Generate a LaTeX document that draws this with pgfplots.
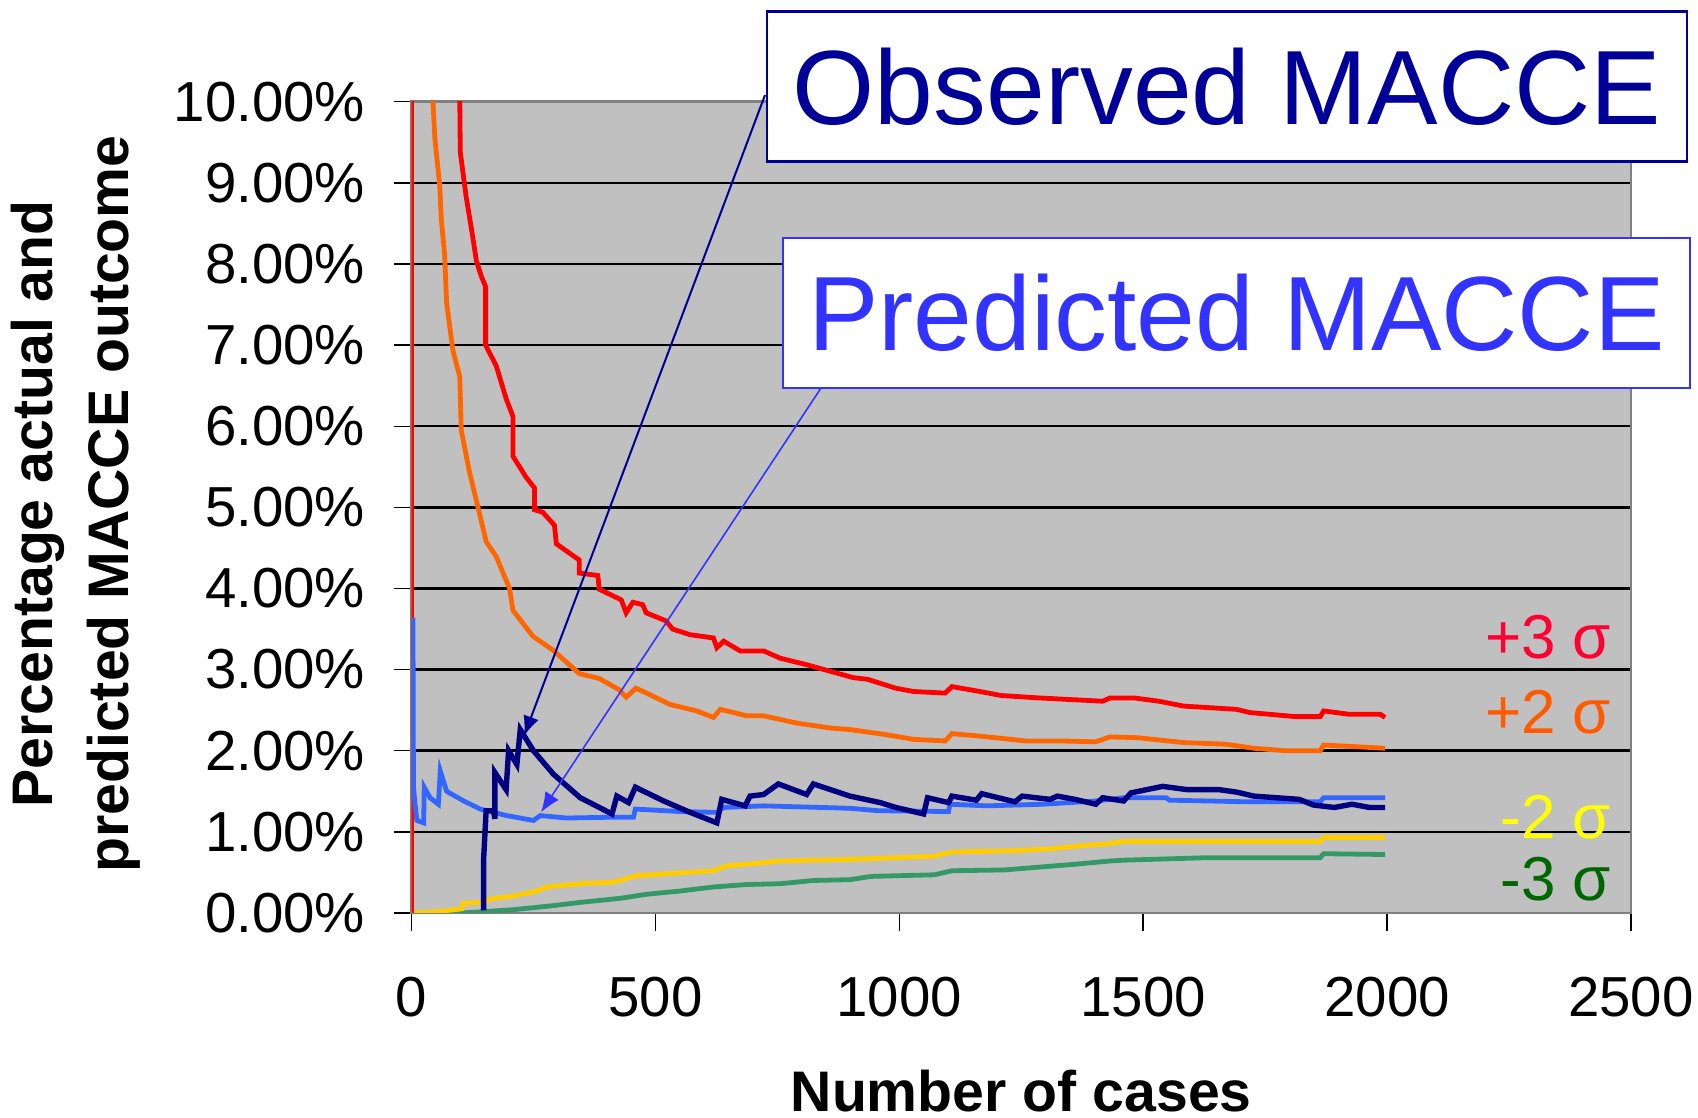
\documentclass[border=0pt]{standalone}
\usepackage{fontspec}
\setmainfont{Liberation Sans}
\usepackage{pgfplots}
\pgfplotsset{compat=1.18}
\usetikzlibrary{arrows.meta}
\definecolor{plotgray}{RGB}{192,192,192}
\definecolor{cRed}{RGB}{255,0,0}
\definecolor{cOrange}{RGB}{255,102,0}
\definecolor{cNavy}{RGB}{0,0,128}
\definecolor{cPred}{RGB}{51,102,255}
\definecolor{cYellow}{RGB}{255,204,0}
\definecolor{cGreen}{RGB}{51,153,102}
\definecolor{tRed}{RGB}{255,0,51}
\definecolor{tOrange}{RGB}{255,90,0}
\definecolor{tYellow}{RGB}{255,255,0}
\definecolor{tGreen}{RGB}{0,102,0}
\definecolor{boxObs}{RGB}{0,0,153}
\definecolor{boxPred}{RGB}{51,51,255}
\begin{document}
\begin{tikzpicture}[x=1pt,y=1pt]
\useasboundingbox (0,0) rectangle (424.5,279.25);
\begin{axis}[
  at={(102.875pt,51.025pt)}, anchor=south west,
  width=304.85pt, height=202.78pt, scale only axis,
  xmin=0, xmax=2500, ymin=0, ymax=10,
  xtick={0,500,1000,1500,2000,2500},
  xticklabels={0,500,1000,1500,2000,2500},
  ytick={0,1,2,3,4,5,6,7,8,9,10},
  yticklabels={0.00\%,1.00\%,2.00\%,3.00\%,4.00\%,5.00\%,6.00\%,7.00\%,8.00\%,9.00\%,10.00\%},
  tick align=outside, tick pos=left,
  major tick length=4.5pt,
  tick style={black, line width=0.35pt},
  ymajorgrids, grid style={black, line width=0.6pt},
  axis background/.style={fill=plotgray},
  axis line style={draw=black!50, line width=0.7pt},
  ticklabel style={font=\fontsize{14.1}{16}\selectfont},
  xticklabel style={yshift=-8pt},
  yticklabel style={xshift=-3.6pt},
  /pgf/number format/assume math mode=true,
  every axis plot/.append style={line width=1.2pt, line join=miter},
]
\addplot[cGreen] coordinates {(0,0) (107,0.0) (209,0.04) (291,0.09) (346,0.13) (428,0.18) (482,0.23) (551,0.27) (619,0.32) (687,0.35) (756,0.36) (824,0.40) (899,0.41) (942,0.45) (1072,0.47) (1108,0.52) (1216,0.53) (1360,0.60) (1432,0.64) (1460,0.65) (1626,0.68) (1863,0.68) (1870,0.73) (1996,0.72)};
\addplot[cYellow] coordinates {(0,0) (59,0.02) (103,0.05) (106,0.12) (148,0.13) (161,0.17) (209,0.21) (257,0.27) (277,0.32) (346,0.36) (414,0.38) (462,0.46) (517,0.48) (619,0.52) (646,0.58) (687,0.60) (756,0.64) (824,0.65) (899,0.66) (993,0.68) (1072,0.70) (1108,0.75) (1245,0.77) (1309,0.79) (1374,0.83) (1424,0.85) (1460,0.88) (1863,0.88) (1870,0.93) (1996,0.93)};
\addplot[cOrange] coordinates {(0,0) (0,30) (40,12) (44,10.0) (48,9.54) (58,8.96) (61,8.56) (68,8.11) (72,7.52) (85,6.93) (99,6.61) (102,5.95) (119,5.43) (140,4.91) (153,4.58) (174,4.39) (201,4.0) (208,3.73) (249,3.41) (290,3.24) (344,2.95) (385,2.89) (426,2.75) (440,2.66) (460,2.77) (482,2.71) (530,2.57) (585,2.49) (619,2.41) (633,2.51) (687,2.43) (722,2.43) (790,2.34) (858,2.28) (899,2.26) (971,2.20) (1029,2.14) (1094,2.12) (1108,2.21) (1165,2.18) (1259,2.12) (1331,2.12) (1403,2.11) (1432,2.17) (1489,2.16) (1583,2.10) (1669,2.08) (1727,2.03) (1791,2.00) (1863,2.00) (1870,2.07) (1996,2.03)};
\addplot[cRed] coordinates {(0,0) (0,40) (50,14) (99,10.0) (100,9.38) (112,8.83) (123,8.43) (133,8.04) (143,7.85) (152,7.72) (152,7.0) (174,6.74) (194,6.34) (208,6.12) (208,5.63) (235,5.37) (252,5.24) (252,4.97) (269,4.94) (293,4.78) (297,4.55) (344,4.35) (344,4.19) (382,4.16) (385,3.99) (430,3.86) (440,3.70) (454,3.83) (474,3.80) (481,3.70) (522,3.60) (535,3.50) (571,3.43) (619,3.39) (626,3.27) (640,3.35) (674,3.23) (722,3.23) (756,3.14) (810,3.06) (858,2.98) (906,2.90) (935,2.88) (993,2.77) (1029,2.73) (1094,2.71) (1108,2.79) (1165,2.73) (1209,2.68) (1288,2.65) (1417,2.61) (1432,2.65) (1482,2.65) (1532,2.61) (1583,2.55) (1691,2.51) (1719,2.47) (1813,2.42) (1863,2.42) (1870,2.49) (1921,2.45) (1986,2.45) (1996,2.41)};
\addplot[cPred] coordinates {(3,3.64) (4,1.55) (8,1.30) (11,1.14) (25,1.11) (26,1.55) (38,1.42) (55,1.34) (59,1.75) (72,1.50) (107,1.38) (141,1.28) (195,1.20) (250,1.14) (264,1.20) (318,1.17) (414,1.18) (455,1.18) (459,1.28) (551,1.25) (626,1.24) (640,1.30) (722,1.32) (899,1.29) (957,1.26) (1101,1.25) (1104,1.34) (1180,1.32) (1295,1.34) (1403,1.38) (1460,1.42) (1547,1.42) (1554,1.39) (1712,1.37) (1863,1.37) (1870,1.42) (1996,1.42)};
\addplot[cNavy, line width=1.35pt] coordinates {(148,0.03) (148,0.68) (153,1.26) (168,1.26) (171,1.16) (171,1.73) (194,1.52) (199,2.0) (216,1.83) (223,2.26) (250,2.0) (291,1.71) (346,1.42) (411,1.22) (421,1.44) (445,1.36) (459,1.55) (517,1.38) (571,1.24) (626,1.11) (636,1.40) (684,1.32) (694,1.44) (722,1.46) (752,1.59) (810,1.46) (824,1.59) (899,1.44) (961,1.36) (993,1.30) (1050,1.22) (1058,1.42) (1101,1.36) (1108,1.44) (1158,1.39) (1169,1.47) (1237,1.37) (1252,1.44) (1309,1.40) (1324,1.44) (1360,1.40) (1403,1.34) (1417,1.42) (1460,1.38) (1475,1.48) (1540,1.56) (1590,1.52) (1655,1.52) (1691,1.49) (1727,1.44) (1820,1.40) (1849,1.33) (1892,1.30) (1928,1.34) (1964,1.30) (1996,1.30)};
\coordinate (obsTip) at (axis cs:230.6,2.18);
\coordinate (predTip) at (axis cs:265.5,1.24);
\end{axis}
% annotation boxes
\node[draw=boxObs, line width=0.6pt, fill=white, minimum width=230pt, minimum height=37.5pt, inner sep=0pt,
  text=boxObs, font=\fontsize{26.4}{30}\selectfont] (obs) at (306.75,257.6) {Observed MACCE};
\node[draw=boxPred, line width=0.6pt, fill=white, minimum width=226.75pt, minimum height=37.5pt, inner sep=0pt,
  text=boxPred, font=\fontsize{26.4}{30}\selectfont] (pred) at (309.1,201) {Predicted MACCE};
\draw[boxObs, line width=0.5pt, -{Latex[length=5pt,width=4pt]}] (191.25,255.5) -- (obsTip);
\draw[boxPred, line width=0.4pt, -{Latex[length=5pt,width=4pt]}] (205.25,182.25) -- (predTip);
% sigma labels
\begin{scope}[font=\fontsize{15.5}{18}\selectfont]
\node[anchor=east, inner sep=0pt, text=tRed] at (403,120) {+3 σ};
\node[anchor=east, inner sep=0pt, text=tOrange] at (403,101.1) {+2 σ};
\node[anchor=east, inner sep=0pt, text=tYellow] at (403,74.9) {-2 σ};
\node[anchor=east, inner sep=0pt, text=tGreen] at (403,59.45) {-3 σ};
\end{scope}
% axis titles
\node[font=\bfseries\fontsize{14.3}{17}\selectfont] at (255.3,6.6) {Number of cases};
\node[font=\bfseries\fontsize{14.3}{19}\selectfont, rotate=90, align=center] at (18.9,153.25) {Percentage actual and\\predicted MACCE outcome};
\end{tikzpicture}
\end{document}
